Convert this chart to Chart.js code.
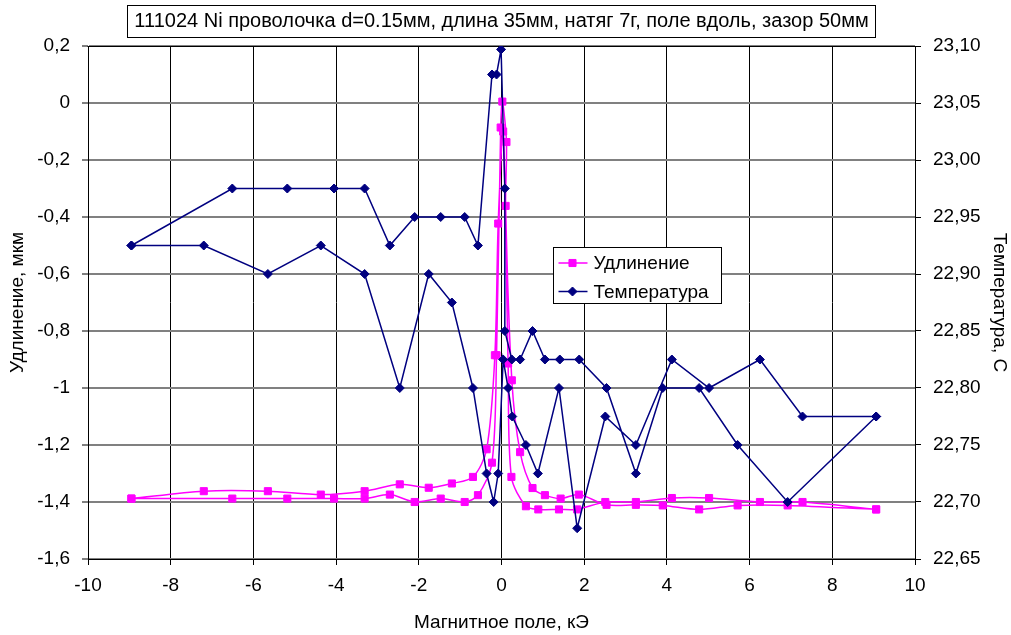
<!DOCTYPE html>
<html>
<head>
<meta charset="utf-8">
<script src="https://cdn.jsdelivr.net/npm/chart.js@4/dist/chart.umd.min.js"></script>
<style>
html,body{margin:0;padding:0;background:#fff;}
#wrap{width:1011px;height:635px;position:relative;}
</style>
</head>
<body>
<div id="wrap"><canvas id="c" width="1011" height="635"></canvas></div>
<script>
// ---------- texts ----------
const titleText = '111024 Ni проволочка d=0.15мм, длина 35мм, натяг 7г, поле вдоль, зазор 50мм';
const xAxisTitle = 'Магнитное поле, кЭ';
const yLeftTitle = 'Удлинение, мкм';
const yRightTitle = 'Температура, С';
const seriesNames = ['Удлинение', 'Температура'];

// ---------- temperature, branch A (upper left branch) ----------
const fieldTempA = [-8.95, -6.51, -5.18, -4.05, -3.31, -2.70, -2.10, -1.47, -0.89, -0.57, -0.23, -0.12, -0.01, 0.08, 0.08, 0.25, 0.45, 0.75, 1.05, 1.41, 1.88, 2.54, 3.25, 3.90, 4.78, 5.71, 6.92, 9.06];
const tempA      = [22.925, 22.975, 22.975, 22.975, 22.975, 22.925, 22.95, 22.95, 22.95, 22.925, 23.075, 23.075, 23.097, 22.975, 22.85, 22.825, 22.825, 22.85, 22.825, 22.825, 22.825, 22.80, 22.725, 22.80, 22.80, 22.75, 22.70, 22.775];

// ---------- temperature, branch B (lower left branch) ----------
const fieldTempB = [-8.95, -7.20, -5.65, -4.37, -3.31, -2.46, -1.76, -1.20, -0.69, -0.36, -0.19, -0.08, 0.04, 0.16, 0.26, 0.59, 0.88, 1.39, 1.83, 2.51, 3.25, 4.12, 5.02, 6.25, 7.28, 9.06];
const tempB      = [22.925, 22.925, 22.90, 22.925, 22.90, 22.80, 22.90, 22.875, 22.80, 22.725, 22.70, 22.725, 22.825, 22.80, 22.775, 22.75, 22.725, 22.80, 22.677, 22.775, 22.75, 22.825, 22.80, 22.825, 22.775, 22.775];

// ---------- elongation, branch A ----------
const fieldElongA = [-8.95, -6.51, -5.18, -4.05, -3.31, -2.70, -2.10, -1.47, -0.89, -0.57, -0.23, -0.12, -0.02, 0.02, 0.12, 0.10, 0.25, 0.45, 0.75, 1.05, 1.43, 1.87, 2.54, 3.25, 3.90, 4.78, 5.71, 6.92, 9.06];
const elongA      = [-1.388, -1.388, -1.388, -1.388, -1.388, -1.374, -1.40, -1.388, -1.40, -1.376, -1.262, -0.885, -0.086, 0.005, -0.137, -0.361, -0.973, -1.225, -1.351, -1.376, -1.388, -1.374, -1.41, -1.41, -1.412, -1.426, -1.412, -1.412, -1.426];

// ---------- elongation, branch B ----------
const fieldElongB = [-8.95, -7.20, -5.65, -4.37, -3.31, -2.46, -1.76, -1.20, -0.69, -0.36, -0.16, -0.08, 0.04, 0.16, 0.24, 0.59, 0.89, 1.39, 1.83, 2.51, 3.25, 4.12, 5.02, 6.25, 7.28, 9.06];
const elongB      = [-1.388, -1.362, -1.362, -1.374, -1.362, -1.338, -1.350, -1.335, -1.312, -1.215, -0.885, -0.423, -0.10, -0.914, -1.312, -1.415, -1.426, -1.426, -1.426, -1.40, -1.40, -1.386, -1.386, -1.40, -1.40, -1.426];

// ---------- ticks ----------
const xTicks = [-10, -8, -6, -4, -2, 0, 2, 4, 6, 8, 10];
const xTickLabels = ['-10', '-8', '-6', '-4', '-2', '0', '2', '4', '6', '8', '10'];
const yLeftTicks = [-1.6, -1.4, -1.2, -1.0, -0.8, -0.6, -0.4, -0.2, 0, 0.2];
const yLeftTickLabels = ['-1,6', '-1,4', '-1,2', '-1', '-0,8', '-0,6', '-0,4', '-0,2', '0', '0,2'];
const yRightTicks = [22.65, 22.70, 22.75, 22.80, 22.85, 22.90, 22.95, 23.00, 23.05, 23.10];
const yRightTickLabels = ['22,65', '22,70', '22,75', '22,80', '22,85', '22,90', '22,95', '23,00', '23,05', '23,10'];

// ---------- build loops (branch A forward, branch B back) ----------
function loop(xa, ya, xb, yb) {
  const pts = xa.map((x, i) => ({x: x, y: ya[i]}));
  for (let i = xb.length - 1; i >= 0; i--) pts.push({x: xb[i], y: yb[i]});
  return pts;
}
const tempPoints = loop(fieldTempA, tempA, fieldTempB, tempB);
const elongPoints = loop(fieldElongA, elongA, fieldElongB, elongB);

const FONT = "'Liberation Sans', Arial, sans-serif";
const FS = 19;
const TFS = 20;

const framePlugin = {
  id: 'frame',
  beforeDatasetsDraw(chart) {
    const {ctx, chartArea: a} = chart;
    ctx.save();
    ctx.strokeStyle = '#000';
    ctx.lineWidth = 1;
    ctx.beginPath();
    ctx.moveTo(Math.round(a.left) - 0.5, Math.round(a.top) + 0.5);
    ctx.lineTo(Math.round(a.right) + 0.5, Math.round(a.top) + 0.5);
    ctx.stroke();
    ctx.restore();
  },
  afterDraw(chart) {
    const {ctx} = chart;
    // title box
    const tb = chart.titleBlock;
    ctx.save();
    ctx.font = TFS + 'px ' + FONT;
    const w = ctx.measureText(titleText).width;
    const cx = (tb.left + tb.right) / 2;
    ctx.strokeStyle = '#000';
    ctx.lineWidth = 1;
    ctx.strokeRect(Math.round(cx - w / 2 - 7) + 0.5, 5.5, Math.round(w + 14), 32);
    // legend
    const lx = 553.5, ly = 247.5, lw = 168, lh = 56;
    ctx.fillStyle = '#fff';
    ctx.fillRect(lx, ly, lw, lh);
    ctx.strokeRect(lx, ly, lw, lh);
    const dsList = [chart.data.datasets[0], chart.data.datasets[1]];
    const rows = [ly + 15.5, ly + 44];
    dsList.forEach((ds, i) => {
      const y = rows[i];
      ctx.strokeStyle = ds.borderColor;
      ctx.lineWidth = 1.5;
      ctx.beginPath();
      ctx.moveTo(lx + 5, y);
      ctx.lineTo(lx + 34, y);
      ctx.stroke();
      ctx.fillStyle = ds.pointBackgroundColor;
      ctx.strokeStyle = ds.pointBorderColor;
      ctx.lineWidth = 1;
      Chart.helpers.drawPoint(ctx, {pointStyle: ds.pointStyle, radius: ds.pointRadius, borderWidth: 1}, lx + 19, y);
      ctx.fillStyle = '#000';
      ctx.textBaseline = 'middle';
      ctx.textAlign = 'left';
      ctx.font = FS + 'px ' + FONT;
      ctx.fillText(ds.label, lx + 40, y + 1);
    });
    ctx.restore();
  }
};

new Chart(document.getElementById('c'), {
  type: 'line',
  data: {
    datasets: [
      {
        label: seriesNames[0],
        data: elongPoints,
        yAxisID: 'y',
        borderColor: '#FF00FF',
        backgroundColor: '#FF00FF',
        pointBackgroundColor: '#FF00FF',
        pointBorderColor: '#FF00FF',
        borderWidth: 1.5,
        pointStyle: 'rect',
        pointRadius: 5,
        pointBorderWidth: 1,
        tension: 0.3,
        order: 1
      },
      {
        label: seriesNames[1],
        data: tempPoints,
        yAxisID: 'y1',
        borderColor: '#000080',
        backgroundColor: '#000080',
        pointBackgroundColor: '#000080',
        pointBorderColor: '#000080',
        borderWidth: 1.5,
        pointStyle: 'rectRot',
        pointRadius: 4.5,
        pointBorderWidth: 1,
        tension: 0,
        order: 0
      }
    ]
  },
  options: {
    responsive: false,
    animation: false,
    devicePixelRatio: 1,
    layout: {padding: {left: 0, right: 0, top: 0, bottom: 0}},
    plugins: {
      legend: {display: false},
      tooltip: {enabled: false},
      title: {
        display: true,
        text: titleText,
        fullSize: false,
        color: '#000',
        font: {family: FONT, size: TFS, weight: 'normal'},
        padding: {top: 9, bottom: 13}
      }
    },
    scales: {
      x: {
        type: 'linear',
        position: 'bottom',
        min: -10, max: 10,
        afterBuildTicks: s => { s.ticks = xTicks.map(v => ({value: v})); },
        afterFit: s => { s.height = 76; },
        ticks: {
          callback: (v, i) => xTickLabels[i],
          color: '#000', font: {family: FONT, size: FS}, padding: 9,
          maxRotation: 0, autoSkip: false
        },
        grid: {color: '#000', lineWidth: 1, tickLength: 6, tickColor: '#000', tickWidth: 1},
        border: {color: '#000', width: 1},
        title: {display: true, text: xAxisTitle, color: '#000', font: {family: FONT, size: FS}, padding: {top: 0, bottom: 1}}
      },
      y: {
        type: 'linear',
        position: 'left',
        min: -1.6, max: 0.2,
        afterBuildTicks: s => { s.ticks = yLeftTicks.map(v => ({value: v})); },
        afterFit: s => { s.width = 88; },
        ticks: {
          callback: (v, i) => yLeftTickLabels[i],
          color: '#000', font: {family: FONT, size: FS}, padding: 12
        },
        grid: {color: '#808080', lineWidth: 2, tickLength: 6, tickColor: '#000', tickWidth: 1},
        border: {color: '#000', width: 1},
        title: {display: true, text: yLeftTitle, color: '#000', font: {family: FONT, size: FS}, padding: {top: 6.5, bottom: 0}}
      },
      y1: {
        type: 'linear',
        position: 'right',
        min: 22.65, max: 23.10,
        afterBuildTicks: s => { s.ticks = yRightTicks.map(v => ({value: v})); },
        afterFit: s => { s.width = 96; },
        ticks: {
          callback: (v, i) => yRightTickLabels[i],
          color: '#000', font: {family: FONT, size: FS}, padding: 12
        },
        grid: {drawOnChartArea: false, tickLength: 6, tickColor: '#000', tickWidth: 1},
        border: {color: '#000', width: 1},
        title: {display: true, text: yRightTitle, color: '#000', font: {family: FONT, size: FS}, padding: {top: 0, bottom: 0}}
      }
    }
  },
  plugins: [framePlugin]
});
</script>
</body>
</html>
